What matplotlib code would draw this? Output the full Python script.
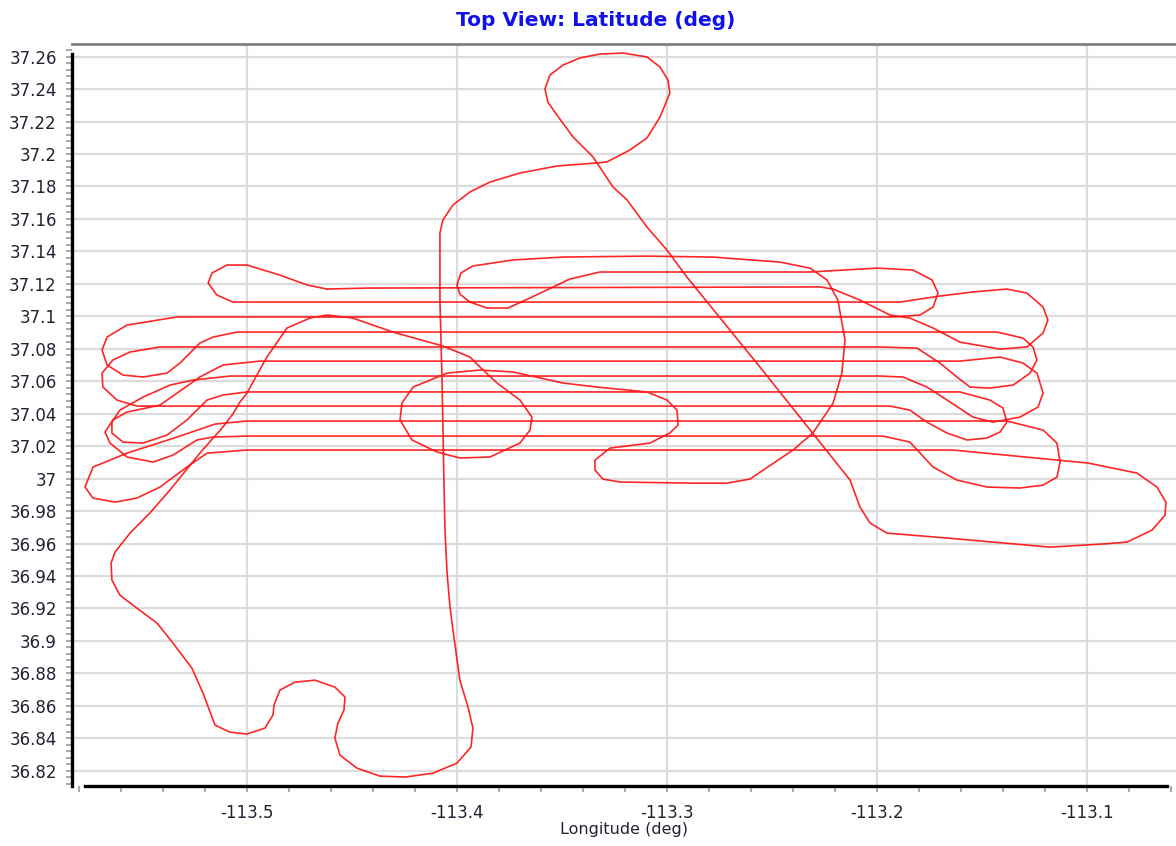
import numpy as np
import matplotlib.pyplot as plt
from matplotlib.ticker import MultipleLocator, FuncFormatter

plt.rcParams['font.family'] = ['DejaVu Sans']
plt.rcParams['axes.unicode_minus'] = False

# outbound leg: from the field, south loop, north along the road, top loop, diagonal to the east turn
outbound_lon = [-113.4699, -113.4808, -113.4904, -113.4999, -113.5032, -113.5066, -113.5113, -113.5223,
                -113.5366, -113.5461, -113.5556, -113.5627, -113.5646, -113.5642, -113.5604, -113.5523,
                -113.5427, -113.5351, -113.5261, -113.5208, -113.5151, -113.5080, -113.4999, -113.4913,
                -113.4875, -113.4870, -113.4842, -113.4770, -113.4675, -113.4580, -113.4532, -113.4537,
                -113.4566, -113.4580, -113.4556, -113.4475, -113.4366, -113.4246, -113.4113, -113.3999,
                -113.3932, -113.3923, -113.3946, -113.3985, -113.4018, -113.4032, -113.4046, -113.4056,
                -113.4061, -113.4070, -113.4080, -113.4080, -113.4066, -113.4018, -113.3937, -113.3842,
                -113.3699, -113.3523, -113.3332, -113.3285, -113.3175, -113.3094, -113.3032, -113.2985,
                -113.2994, -113.3032, -113.3094, -113.3208, -113.3318, -113.3413, -113.3494, -113.3556,
                -113.3580, -113.3566, -113.3523, -113.3446, -113.3351, -113.3256, -113.3189, -113.3094,
                -113.2999, -113.2904, -113.2556, -113.2127, -113.2080, -113.2032, -113.1951, -113.1666,
                -113.1446, -113.1175, -113.0923, -113.0808, -113.0689, -113.0627, -113.0623, -113.0666,
                -113.0761, -113.0994, -113.1637]
outbound_lat = [37.0989, 37.0928, 37.0749, 37.0527, 37.0472, 37.0398, 37.0318, 37.0157,
                36.9929, 36.9788, 36.9664, 36.9547, 36.9480, 36.9375, 36.9282, 36.9202,
                36.9110, 36.8986, 36.8832, 36.8678, 36.8481, 36.8438, 36.8426, 36.8463,
                36.8543, 36.8604, 36.8697, 36.8746, 36.8758, 36.8715, 36.8654, 36.8574,
                36.8493, 36.8401, 36.8296, 36.8216, 36.8167, 36.8161, 36.8185, 36.8247,
                36.8346, 36.8463, 36.8592, 36.8758, 36.9067, 36.9208, 36.9418, 36.9683,
                36.9991, 37.0607, 37.1100, 37.1513, 37.1593, 37.1686, 37.1766, 37.1827,
                37.1883, 37.1926, 37.1945, 37.1951, 37.2025, 37.2099, 37.2228, 37.2376,
                37.2456, 37.2536, 37.2598, 37.2622, 37.2616, 37.2592, 37.2548, 37.2487,
                37.2401, 37.2320, 37.2240, 37.2105, 37.1982, 37.1797, 37.1717, 37.1550,
                37.1408, 37.1242, 37.0687, 36.9991, 36.9825, 36.9726, 36.9664, 36.9634,
                36.9609, 36.9578, 36.9597, 36.9609, 36.9683, 36.9775, 36.9855, 36.9948,
                37.0034, 37.0096, 37.0176]

# survey lines with their end turns
survey_lon = [-113.4999, -113.5189, -113.5285, -113.5413, -113.5523, -113.5627, -113.5732, -113.5770,
              -113.5732, -113.5570, -113.5332, -113.5151, -113.4999, -113.1380,
              -113.1208, -113.1142, -113.1127, -113.1142, -113.1208, -113.1318, -113.1475, -113.1618,
              -113.1732, -113.1842, -113.1970, -113.4999,
              -113.5161, -113.5237, -113.5351, -113.5446, -113.5570, -113.5651, -113.5675, -113.5637,
              -113.5570, -113.5413, -113.5332, -113.5223, -113.5113, -113.4937, -113.1604,
              -113.1413, -113.1304, -113.1237, -113.1208, -113.1232, -113.1318, -113.1446, -113.1542,
              -113.1651, -113.1761, -113.1875, -113.1985, -113.5080,
              -113.5256, -113.5366, -113.5494, -113.5604, -113.5642, -113.5642, -113.5589, -113.5494,
              -113.5380, -113.5285, -113.5189, -113.5113, -113.4999, -113.1604,
              -113.1461, -113.1399, -113.1380, -113.1413, -113.1475, -113.1570, -113.1666, -113.1761,
              -113.1842, -113.1937, -113.5413,
              -113.5523, -113.5618, -113.5685, -113.5689, -113.5637, -113.5556, -113.5413, -113.1985,
              -113.1808, -113.1699, -113.1618, -113.1556, -113.1461, -113.1351, -113.1270, -113.1237,
              -113.1256, -113.1304, -113.1427, -113.5046,
              -113.5161, -113.5223, -113.5318, -113.5380, -113.5494, -113.5589, -113.5665, -113.5689,
              -113.5665, -113.5570, -113.5332, -113.1923,
              -113.1794, -113.1732, -113.1708, -113.1737, -113.1827, -113.1999, -113.2318, -113.3318]
survey_lat = [37.0176, 37.0157, 37.0071, 36.9948, 36.9880, 36.9855, 36.9880, 36.9948,
              37.0071, 37.0157, 37.0256, 37.0336, 37.0355, 37.0355,
              37.0299, 37.0219, 37.0102, 37.0009, 36.9960, 36.9942, 36.9948, 36.9991,
              37.0071, 37.0225, 37.0262, 37.0262,
              37.0256, 37.0238, 37.0145, 37.0102, 37.0133, 37.0219, 37.0287, 37.0361,
              37.0410, 37.0453, 37.0527, 37.0626, 37.0700, 37.0724, 37.0724,
              37.0749, 37.0712, 37.0650, 37.0527, 37.0441, 37.0379, 37.0348, 37.0379,
              37.0472, 37.0564, 37.0626, 37.0632, 37.0632,
              37.0607, 37.0576, 37.0502, 37.0422, 37.0348, 37.0281, 37.0225, 37.0219,
              37.0268, 37.0361, 37.0484, 37.0515, 37.0534, 37.0534,
              37.0484, 37.0435, 37.0348, 37.0287, 37.0250, 37.0238, 37.0281, 37.0348,
              37.0422, 37.0447, 37.0447,
              37.0447, 37.0484, 37.0564, 37.0650, 37.0731, 37.0780, 37.0811, 37.0811,
              37.0804, 37.0712, 37.0626, 37.0564, 37.0558, 37.0576, 37.0650, 37.0731,
              37.0811, 37.0866, 37.0903, 37.0903,
              37.0872, 37.0835, 37.0712, 37.0650, 37.0626, 37.0638, 37.0700, 37.0792,
              37.0872, 37.0946, 37.0996, 37.0996,
              37.1008, 37.1057, 37.1143, 37.1224, 37.1285, 37.1297, 37.1273, 37.1273]

# return leg: small loop, top line, D loop, circle, back to the field
return_lon = [-113.3461, -113.3651, -113.3756, -113.3856, -113.3937, -113.3985, -113.3999, -113.3980,
              -113.3923, -113.3732, -113.3494, -113.3094, -113.2780, -113.2461, -113.2318, -113.2237,
              -113.2185, -113.2151, -113.2166, -113.2208, -113.2304, -113.2399, -113.2604, -113.2713,
              -113.2875, -113.3223, -113.3304, -113.3342, -113.3342, -113.3270, -113.3080, -113.2985,
              -113.2946, -113.2951, -113.2999, -113.3094, -113.3332, -113.3494, -113.3732, -113.3889,
              -113.4046, -113.4208, -113.4261, -113.4270, -113.4213, -113.4094, -113.3985, -113.3842,
              -113.3699, -113.3651, -113.3642, -113.3699, -113.3808, -113.3889, -113.3937, -113.4066,
              -113.4304, -113.4494, -113.4618, -113.4699]
return_lat = [37.1230, 37.1113, 37.1051, 37.1051, 37.1088, 37.1137, 37.1193, 37.1267,
              37.1310, 37.1347, 37.1365, 37.1371, 37.1365, 37.1334, 37.1297, 37.1224,
              37.1100, 37.0854, 37.0650, 37.0465, 37.0281, 37.0176, 36.9997, 36.9972,
              36.9972, 36.9979, 36.9997, 37.0053, 37.0114, 37.0188, 37.0219, 37.0281,
              37.0330, 37.0422, 37.0484, 37.0534, 37.0564, 37.0589, 37.0657, 37.0669,
              37.0650, 37.0564, 37.0465, 37.0361, 37.0238, 37.0164, 37.0127, 37.0133,
              37.0219, 37.0299, 37.0379, 37.0484, 37.0589, 37.0687, 37.0749, 37.0817,
              37.0903, 37.0989, 37.1008, 37.0989]

# northern pair of lines flown as a racetrack
track_lon = [-113.4618, -113.4713, -113.4842, -113.4999, -113.5094, -113.5165, -113.5184, -113.5142,
             -113.5066, -113.1889, -113.1699, -113.1542, -113.1380, -113.1285, -113.1208, -113.1185,
             -113.1208, -113.1285, -113.1413, -113.1604, -113.1732, -113.1842, -113.1937, -113.2080,
             -113.2208, -113.2270, -113.4427, -113.4618]
track_lat = [37.1168, 37.1193, 37.1254, 37.1316, 37.1316, 37.1267, 37.1205, 37.1131,
             37.1088, 37.1088, 37.1125, 37.1150, 37.1168, 37.1143, 37.1057, 37.0977,
             37.0897, 37.0811, 37.0798, 37.0841, 37.0928, 37.0989, 37.1008, 37.1100,
             37.1168, 37.1181, 37.1174, 37.1168]

x_ticks = [-113.5, -113.4, -113.3, -113.2, -113.1]

fig = plt.figure(figsize=(11.76, 8.46), dpi=100)
ax = fig.add_axes([72/1176, 60/846, 1104/1176, 741.7/846])

path_lon = np.concatenate([outbound_lon, survey_lon, return_lon])
path_lat = np.concatenate([outbound_lat, survey_lat, return_lat])
ax.plot(path_lon, path_lat, color='#ff0000', lw=1.2, alpha=0.85, zorder=3)
ax.plot(track_lon, track_lat, color='#ff0000', lw=1.2, alpha=0.85, zorder=3)

ax.set_xlim(-113.5832, -113.0575)
ax.set_ylim(36.8106, 37.2676)

ax.set_xticks(x_ticks)
ax.xaxis.set_minor_locator(MultipleLocator(0.02))
ax.yaxis.set_major_locator(MultipleLocator(0.02))
ax.yaxis.set_minor_locator(MultipleLocator(0.004))
fmt = FuncFormatter(lambda v, p: ('%.2f' % v).rstrip('0').rstrip('.'))
ax.yaxis.set_major_formatter(fmt)
ax.xaxis.set_major_formatter(FuncFormatter(lambda v, p: '%.1f' % v))

ax.grid(True, which='major', color='#dcdcdc', lw=1.6, zorder=0)
ax.set_axisbelow(True)

ax.spines['right'].set_visible(False)
ax.spines['top'].set_color('#808080')
ax.spines['top'].set_linewidth(2)
ax.spines['left'].set_color('black')
ax.spines['left'].set_linewidth(2.4)
ax.spines['left'].set_bounds(36.8106, 37.2617)
ax.spines['bottom'].set_color('black')
ax.spines['bottom'].set_linewidth(2.4)
ax.spines['bottom'].set_bounds(-113.5770, -113.0618)

ax.tick_params(axis='both', which='both', direction='out', color='#999999', width=1.2)
ax.tick_params(axis='y', which='major', length=4, pad=7, labelsize=12, labelcolor='#222233')
ax.tick_params(axis='y', which='minor', length=4)
ax.tick_params(axis='x', which='major', length=4, pad=9, labelsize=12, labelcolor='#222233')
ax.tick_params(axis='x', which='minor', length=4)

ax.set_xlabel('Longitude (deg)', fontsize=11.5, color='#222233', labelpad=0)
fig.text(596/1176, 1 - 20/846, 'Top View: Latitude (deg)', ha='center', va='center',
         fontsize=14.5, fontweight='bold', color='#1010ee')

fig.savefig('out.png', dpi=100)
